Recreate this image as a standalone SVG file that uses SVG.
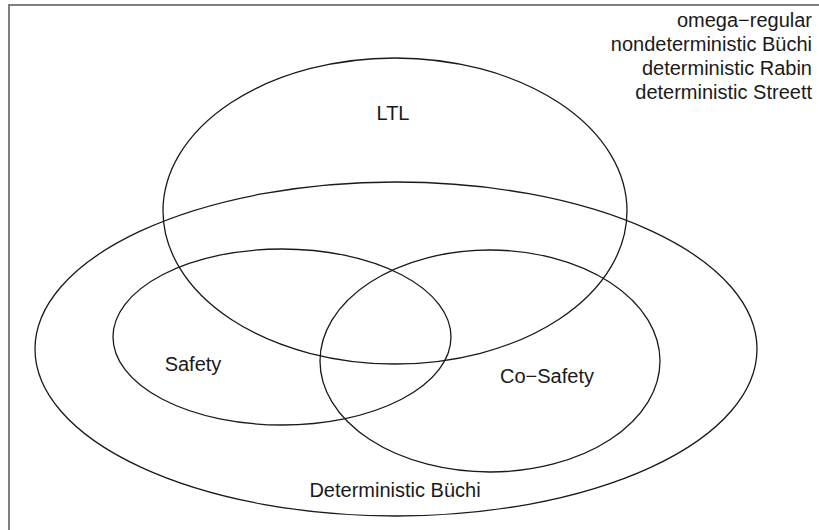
<svg xmlns="http://www.w3.org/2000/svg" width="819" height="530" viewBox="0 0 819 530">
  <style>
    .set { fill: none; stroke: #1a1a1a; stroke-width: 1.3; }
    .lbl { font-family: "Liberation Sans", Arial, sans-serif; font-size: 20px; fill: #1a1a1a; }
    .mid { text-anchor: middle; }
    .end { text-anchor: end; }
  </style>
  <rect width="819" height="530" fill="#ffffff"/>
  <!-- plot frame (right and bottom edges fall outside the view) -->
  <rect x="9" y="5" width="900" height="600" fill="none" stroke="#7f7f7f" stroke-width="2"/>

  <g id="legend">
    <text class="lbl end" x="812" y="27">omega−regular</text>
    <text class="lbl end" x="812" y="51">nondeterministic Büchi</text>
    <text class="lbl end" x="812" y="75">deterministic Rabin</text>
    <text class="lbl end" x="812" y="99">deterministic Streett</text>
  </g>

  <g id="ltl">
    <ellipse class="set" cx="395" cy="211" rx="232" ry="153"/>
    <text class="lbl mid" x="393" y="120">LTL</text>
  </g>

  <g id="det-buchi">
    <ellipse class="set" cx="396" cy="349" rx="361" ry="167"/>
    <text class="lbl mid" x="395" y="497">Deterministic Büchi</text>
  </g>

  <g id="safety">
    <ellipse class="set" cx="282" cy="337" rx="169" ry="88"/>
    <text class="lbl mid" x="193" y="371">Safety</text>
  </g>

  <g id="co-safety">
    <ellipse class="set" cx="490" cy="361" rx="170" ry="111"/>
    <text class="lbl mid" x="547" y="383">Co−Safety</text>
  </g>

  <g id="connectors"/>
</svg>
